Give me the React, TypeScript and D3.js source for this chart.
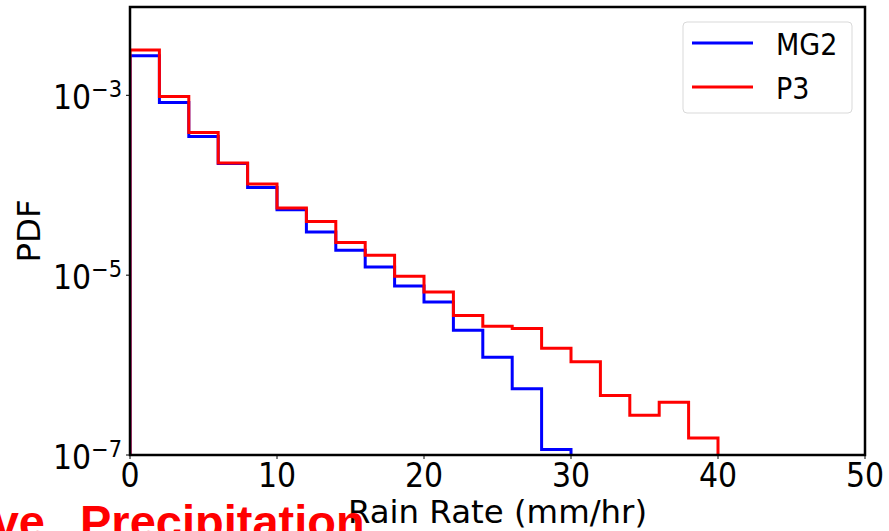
import React, { useEffect, useRef } from "react";
import * as d3 from "d3";

// left edges of the 2 mm/hr bins
const binStarts = [0, 2, 4, 6, 8, 10, 12, 14, 16, 18, 20, 22, 24, 26, 28, 30, 32, 34, 36, 38];
const binWidth = 2;

// PDF per bin; trailing empty bins left out
const mg2 = [2.75e-3, 8.3e-4, 3.48e-4, 1.74e-4, 9.46e-5, 5.35e-5, 3.02e-5, 1.89e-5, 1.23e-5, 7.6e-6,
  5.03e-6, 2.44e-6, 1.22e-6, 5.45e-7, 1.15e-7];
const p3 = [3.2e-3, 9.7e-4, 3.86e-4, 1.77e-4, 1.03e-4, 5.58e-5, 3.96e-5, 2.31e-5, 1.66e-5, 9.7e-6,
  6.5e-6, 3.57e-6, 2.7e-6, 2.55e-6, 1.54e-6, 1.09e-6, 4.6e-7, 2.77e-7, 3.86e-7, 1.55e-7];

const seriesNames = ["MG2", "P3"];
const seriesColors = ["#0000ff", "#ff0000"];
const xTicks = [0, 10, 20, 30, 40, 50];
const yTicks = [1e-7, 1e-5, 1e-3];
const yTickExp = ["−7", "−5", "−3"];

const W = 889;
const H = 531;
const FONT = "DejaVu Sans, sans-serif";
const STRETCH = 1.1; // tick and legend text is drawn a bit tall in the original

const App = () => {
  const ref = useRef<SVGSVGElement>(null);

  useEffect(() => {
    drawChart();
  }, []);

  const drawChart = () => {
    const svg = d3.select(ref.current);
    svg.selectAll("*").remove();

    const left = 130, right = 865, top = 7, bottom = 455;
    const x = d3.scaleLinear().domain([0, 50]).range([left, right]);
    const y = d3.scaleLog().domain([1e-7, 0.0096]).range([bottom, top]);
    const yMin = y.domain()[0];

    svg.append("defs").append("clipPath").attr("id", "plotClip")
      .append("rect")
      .attr("x", left).attr("y", top)
      .attr("width", right - left).attr("height", bottom - top);

    const line = d3.line<[number, number]>()
      .x((d) => x(d[0]))
      .y((d) => y(d[1]))
      .curve(d3.curveStepAfter);

    [mg2, p3].forEach((vals, si) => {
      const pts: [number, number][] = [[binStarts[0], yMin]];
      vals.forEach((v, i) => pts.push([binStarts[i], v]));
      const end = binStarts[vals.length - 1] + binWidth;
      pts.push([end, vals[vals.length - 1]]);
      pts.push([end, yMin]);
      svg.append("path")
        .attr("d", line(pts))
        .attr("fill", "none")
        .attr("stroke", seriesColors[si])
        .attr("stroke-width", 3)
        .attr("clip-path", "url(#plotClip)");
    });

    // frame
    svg.append("rect")
      .attr("x", left).attr("y", top)
      .attr("width", right - left).attr("height", bottom - top)
      .attr("fill", "none").attr("stroke", "#000").attr("stroke-width", 2.5);

    // x ticks
    const xt = svg.append("g");
    xTicks.forEach((t) => {
      xt.append("line")
        .attr("x1", x(t)).attr("x2", x(t))
        .attr("y1", bottom).attr("y2", bottom + 4)
        .attr("stroke", "#000").attr("stroke-width", 1);
      xt.append("text")
        .attr("transform", `translate(${x(t)},487) scale(1,${STRETCH})`)
        .attr("text-anchor", "middle")
        .attr("font-family", FONT).attr("font-size", 30)
        .text(t);
    });

    // y ticks
    const yt = svg.append("g");
    yTicks.forEach((t, i) => {
      yt.append("line")
        .attr("x1", left - 4).attr("x2", left)
        .attr("y1", y(t)).attr("y2", y(t))
        .attr("stroke", "#000").attr("stroke-width", 1);
      const txt = yt.append("text")
        .attr("transform", `translate(122,${y(t) + 14}) scale(1,${STRETCH})`)
        .attr("text-anchor", "end")
        .attr("font-family", FONT).attr("font-size", 30);
      txt.append("tspan").text("10");
      txt.append("tspan").attr("dy", -11).attr("font-size", 21).text(yTickExp[i]);
    });

    // axis labels
    svg.append("text")
      .attr("x", (left + right) / 2).attr("y", 523)
      .attr("text-anchor", "middle")
      .attr("font-family", FONT).attr("font-size", 32.4)
      .text("Rain Rate (mm/hr)");

    svg.append("text")
      .attr("transform", `translate(40,${(top + bottom) / 2}) rotate(-90)`)
      .attr("text-anchor", "middle")
      .attr("font-family", FONT).attr("font-size", 32.4)
      .text("PDF");

    // legend
    const lg = svg.append("g");
    lg.append("rect")
      .attr("x", 683).attr("y", 22).attr("width", 169).attr("height", 91)
      .attr("rx", 4)
      .attr("fill", "#fff").attr("fill-opacity", 0.8)
      .attr("stroke", "#d9d9d9").attr("stroke-width", 1);
    seriesNames.forEach((name, i) => {
      const ly = 43 + i * 44;
      lg.append("line")
        .attr("x1", 692).attr("x2", 753)
        .attr("y1", ly).attr("y2", ly)
        .attr("stroke", seriesColors[i]).attr("stroke-width", 3);
      lg.append("text")
        .attr("transform", `translate(776,${ly + 12}) scale(1,${STRETCH})`)
        .attr("font-family", FONT).attr("font-size", 27)
        .text(name);
    });

    // title of the neighbouring panel, cut off by the figure edge
    svg.append("text")
      .attr("x", 45).attr("y", 538)
      .attr("text-anchor", "end")
      .attr("font-family", "Liberation Sans, Arial, sans-serif")
      .attr("font-weight", "bold").attr("font-size", 47)
      .attr("fill", "#ff0000")
      .text("Convective");
    svg.append("text")
      .attr("x", 80).attr("y", 538)
      .attr("font-family", "Liberation Sans, Arial, sans-serif")
      .attr("font-weight", "bold").attr("font-size", 47)
      .attr("fill", "#ff0000")
      .text("Precipitation");
  };

  return (
    <div style={{ position: "absolute", left: 0, top: 0 }}>
      <svg ref={ref} width={W} height={H} style={{ display: "block", background: "#fff" }} />
    </div>
  );
};

export default App;
